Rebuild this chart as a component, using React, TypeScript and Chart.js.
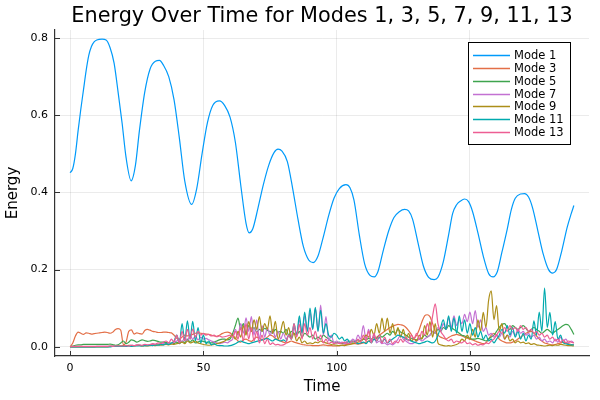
import React, { useEffect, useRef } from "react";
import { Chart, registerables } from "chart.js";

Chart.register(...registerables);

const titleText = "Energy Over Time for Modes 1, 3, 5, 7, 9, 11, 13";
const modeLabels = ["Mode 1", "Mode 3", "Mode 5", "Mode 7", "Mode 9", "Mode 11", "Mode 13"];
const modeColors = ["#009AFA", "#E36F47", "#3EA44E", "#C371D2", "#AC8E18", "#00AAAE", "#ED5E93"];
const xTicks = [0, 50, 100, 150];
const yTicks = [0, 0.2, 0.4, 0.6, 0.8];

const mode1Times = [
  0, 1, 2, 3, 4, 5, 6, 7, 8, 9, 10, 12, 13.5, 15, 16.5, 18, 19.5, 21, 22.9, 24.5,
  26, 28, 30, 32, 33.5, 35, 37, 39, 41, 43, 45.6, 47.5, 49.5, 51.5, 53.5, 56, 58, 60, 62, 64,
  66, 67.2, 68.5, 70.5, 72.5, 74.5, 76.5, 78, 79.5, 81.5, 83.5, 85.5, 87.5, 89.5, 91.2, 93, 95, 97, 99, 101,
  103.5, 105, 106.5, 108.5, 110.5, 112.5, 114.1, 115.5, 117.5, 119.5, 121.5, 123.5, 125.5, 127, 128.5, 130.5, 132.5, 134.5, 136.6, 138,
  140, 142, 143.5, 145, 146.5, 148, 149.5, 151, 153, 155, 157, 158.7, 160.3, 162, 164, 165.5, 167, 169, 170.5, 172,
  173.5, 175.5, 177.5, 179.5, 181, 182.5, 184.5, 186.5, 188, 189,
];
const mode1Energy = [
  0.451, 0.462, 0.5, 0.56, 0.615, 0.665, 0.715, 0.755, 0.778, 0.79, 0.795, 0.797, 0.795, 0.775, 0.735, 0.66, 0.58, 0.49, 0.43, 0.47,
  0.56, 0.66, 0.72, 0.74, 0.742, 0.73, 0.7, 0.64, 0.54, 0.43, 0.369, 0.41, 0.5, 0.58, 0.625, 0.637, 0.625, 0.595, 0.53, 0.42,
  0.32, 0.295, 0.305, 0.36, 0.42, 0.47, 0.503, 0.512, 0.507, 0.48, 0.41, 0.33, 0.26, 0.225, 0.218, 0.235, 0.285, 0.34, 0.385, 0.41,
  0.42, 0.412, 0.38, 0.29, 0.215, 0.185, 0.181, 0.195, 0.25, 0.3, 0.335, 0.35, 0.356, 0.352, 0.33, 0.27, 0.21, 0.18, 0.174, 0.18,
  0.22, 0.29, 0.345, 0.368, 0.378, 0.383, 0.376, 0.35, 0.295, 0.235, 0.19, 0.181, 0.195, 0.245, 0.305, 0.355, 0.385, 0.396, 0.397, 0.388,
  0.36, 0.3, 0.24, 0.2, 0.191, 0.2, 0.25, 0.31, 0.345, 0.366,
];

// Higher modes sampled at t = 0, 1, 2, ..., 189
const sampleTimes = Array.from({ length: 190 }, (_, i) => i);

const mode3Energy = [
  0, 0.01, 0.028, 0.038, 0.035, 0.032, 0.036, 0.035, 0.033, 0.034,
  0.035, 0.036, 0.037, 0.038, 0.037, 0.035, 0.038, 0.045, 0.047, 0.043,
  0.005, 0.012, 0.04, 0.044, 0.033, 0.036, 0.034, 0.033, 0.042, 0.045,
  0.043, 0.04, 0.039, 0.037, 0.037, 0.038, 0.038, 0.037, 0.036, 0.03,
  0.022, 0.02, 0.025, 0.03, 0.028, 0.03, 0.032, 0.035, 0.036, 0.035,
  0.034, 0.033, 0.032, 0.03, 0.028, 0.027, 0.03, 0.034, 0.037, 0.038,
  0.036, 0.03, 0.022, 0.015, 0.012, 0.018, 0.02, 0.016, 0.014, 0.02,
  0.025, 0.022, 0.018, 0.02, 0.025, 0.03, 0.028, 0.022, 0.018, 0.015,
  0.012, 0.01, 0.012, 0.015, 0.012, 0.01, 0.008, 0.006, 0.005, 0.004,
  0.004, 0.003, 0.003, 0.003, 0.004, 0.005, 0.004, 0.003, 0.003, 0.002,
  0.002, 0.003, 0.004, 0.005, 0.006, 0.007, 0.008, 0.008, 0.007, 0.008,
  0.01, 0.012, 0.015, 0.018, 0.02, 0.025, 0.03, 0.035, 0.04, 0.045,
  0.05, 0.053, 0.056, 0.058, 0.057, 0.055, 0.05, 0.042, 0.032, 0.022,
  0.03, 0.045, 0.065, 0.08, 0.083, 0.078, 0.06, 0.04, 0.03, 0.025,
  0.022, 0.02, 0.024, 0.028, 0.03, 0.032, 0.03, 0.028, 0.025, 0.022,
  0.02, 0.018, 0.015, 0.012, 0.01, 0.008, 0.01, 0.02, 0.03, 0.035,
  0.03, 0.02, 0.015, 0.012, 0.01, 0.01, 0.012, 0.015, 0.02, 0.025,
  0.03, 0.035, 0.038, 0.04, 0.035, 0.028, 0.02, 0.015, 0.01, 0.008,
  0.006, 0.005, 0.006, 0.008, 0.01, 0.012, 0.01, 0.008, 0.006, 0.005,
];

const mode5Energy = [
  0, 0.002, 0.004, 0.005, 0.005, 0.006, 0.006, 0.006, 0.006, 0.006,
  0.006, 0.006, 0.006, 0.006, 0.006, 0.007, 0.006, 0.004, 0.005, 0.01,
  0.015, 0.008, 0.012, 0.018, 0.016, 0.012, 0.015, 0.018, 0.016, 0.014,
  0.015, 0.017, 0.016, 0.014, 0.012, 0.012, 0.011, 0.01, 0.009, 0.008,
  0.012, 0.008, 0.015, 0.01, 0.02, 0.012, 0.018, 0.01, 0.012, 0.015,
  0.014, 0.012, 0.01, 0.01, 0.012, 0.015, 0.018, 0.02, 0.02, 0.018,
  0.02, 0.035, 0.055, 0.074, 0.045, 0.06, 0.035, 0.055, 0.04, 0.05,
  0.038, 0.045, 0.04, 0.048, 0.042, 0.04, 0.035, 0.045, 0.038, 0.04,
  0.035, 0.045, 0.03, 0.04, 0.035, 0.03, 0.04, 0.025, 0.035, 0.03,
  0.025, 0.03, 0.02, 0.025, 0.02, 0.03, 0.025, 0.02, 0.015, 0.012,
  0.01, 0.012, 0.008, 0.01, 0.012, 0.015, 0.012, 0.015, 0.018, 0.015,
  0.02, 0.018, 0.022, 0.02, 0.025, 0.022, 0.03, 0.025, 0.03, 0.035,
  0.03, 0.04, 0.035, 0.045, 0.038, 0.035, 0.03, 0.025, 0.022, 0.02,
  0.018, 0.02, 0.022, 0.03, 0.025, 0.03, 0.04, 0.035, 0.045, 0.04,
  0.05, 0.045, 0.055, 0.05, 0.045, 0.04, 0.035, 0.03, 0.028, 0.025,
  0.022, 0.02, 0.02, 0.022, 0.02, 0.018, 0.015, 0.02, 0.025, 0.03,
  0.04, 0.05, 0.058, 0.06, 0.05, 0.045, 0.055, 0.05, 0.045, 0.05,
  0.055, 0.048, 0.04, 0.045, 0.05, 0.045, 0.04, 0.035, 0.04, 0.045,
  0.04, 0.035, 0.04, 0.045, 0.05, 0.055, 0.058, 0.056, 0.045, 0.032,
];

const mode7Energy = [
  0, 0, 0, 0, 0, 0, 0, 0, 0, 0,
  0.001, 0.001, 0.001, 0.001, 0.001, 0.001, 0.002, 0.001, 0.002, 0.002,
  0.002, 0.003, 0.002, 0.004, 0.003, 0.005, 0.004, 0.003, 0.005, 0.004,
  0.005, 0.006, 0.005, 0.007, 0.006, 0.008, 0.007, 0.01, 0.008, 0.012,
  0.015, 0.02, 0.012, 0.025, 0.015, 0.03, 0.02, 0.028, 0.018, 0.025,
  0.02, 0.022, 0.018, 0.015, 0.012, 0.01, 0.008, 0.01, 0.012, 0.01,
  0.015, 0.02, 0.045, 0.03, 0.06, 0.035, 0.075, 0.04, 0.078, 0.03,
  0.07, 0.02, 0.055, 0.025, 0.05, 0.03, 0.045, 0.025, 0.04, 0.02,
  0.035, 0.02, 0.03, 0.025, 0.05, 0.03, 0.07, 0.035, 0.08, 0.04,
  0.09, 0.045, 0.1, 0.04, 0.108, 0.03, 0.078, 0.015, 0.03, 0.01,
  0.015, 0.01, 0.012, 0.008, 0.015, 0.01, 0.02, 0.015, 0.03, 0.02,
  0.055, 0.02, 0.045, 0.015, 0.03, 0.01, 0.015, 0.008, 0.01, 0.005,
  0.008, 0.005, 0.01, 0.02, 0.03, 0.02, 0.015, 0.01, 0.008, 0.01,
  0.015, 0.02, 0.015, 0.02, 0.025, 0.03, 0.04, 0.035, 0.05, 0.04,
  0.06, 0.045, 0.075, 0.05, 0.08, 0.055, 0.07, 0.06, 0.084, 0.065,
  0.09, 0.06, 0.094, 0.05, 0.07, 0.04, 0.05, 0.03, 0.035, 0.025,
  0.03, 0.025, 0.035, 0.02, 0.03, 0.025, 0.04, 0.03, 0.045, 0.035,
  0.04, 0.03, 0.035, 0.025, 0.03, 0.02, 0.025, 0.015, 0.02, 0.012,
  0.015, 0.01, 0.02, 0.012, 0.025, 0.015, 0.02, 0.01, 0.015, 0.01,
];

const mode9Energy = [
  0, 0, 0, 0, 0, 0, 0, 0, 0, 0,
  0, 0, 0, 0, 0, 0.001, 0.001, 0.001, 0.002, 0.002,
  0.003, 0.002, 0.004, 0.003, 0.002, 0.004, 0.003, 0.002, 0.003, 0.002,
  0.003, 0.004, 0.003, 0.005, 0.004, 0.005, 0.006, 0.005, 0.007, 0.006,
  0.008, 0.01, 0.012, 0.008, 0.015, 0.01, 0.012, 0.015, 0.01, 0.008,
  0.006, 0.005, 0.004, 0.005, 0.006, 0.008, 0.01, 0.012, 0.015, 0.02,
  0.025, 0.03, 0.02, 0.04, 0.025, 0.055, 0.03, 0.065, 0.04, 0.07,
  0.045, 0.078, 0.04, 0.06, 0.045, 0.08, 0.035, 0.066, 0.02, 0.04,
  0.066, 0.03, 0.05, 0.02, 0.035, 0.015, 0.025, 0.01, 0.015, 0.008,
  0.01, 0.008, 0.012, 0.01, 0.015, 0.012, 0.01, 0.008, 0.006, 0.005,
  0.004, 0.003, 0.004, 0.003, 0.005, 0.006, 0.008, 0.01, 0.012, 0.015,
  0.02, 0.03, 0.025, 0.045, 0.03, 0.06, 0.035, 0.074, 0.04, 0.074,
  0.035, 0.06, 0.03, 0.05, 0.025, 0.045, 0.02, 0.035, 0.015, 0.02,
  0.015, 0.03, 0.02, 0.055, 0.03, 0.065, 0.025, 0.06, 0.01, 0.005,
  0.003, 0.002, 0.003, 0.002, 0.004, 0.006, 0.01, 0.02, 0.015, 0.03,
  0.02, 0.045, 0.025, 0.07, 0.04, 0.089, 0.05, 0.12, 0.145, 0.07,
  0.107, 0.04, 0.06, 0.02, 0.03, 0.015, 0.02, 0.01, 0.015, 0.01,
  0.012, 0.008, 0.01, 0.006, 0.008, 0.005, 0.004, 0.003, 0.002, 0.003,
  0.004, 0.003, 0.005, 0.004, 0.006, 0.005, 0.004, 0.003, 0.003, 0.002,
];

const mode11Energy = [
  0, 0, 0, 0, 0, 0, 0, 0, 0, 0,
  0, 0, 0, 0, 0, 0, 0.001, 0.001, 0.001, 0.001,
  0.001, 0.001, 0.002, 0.001, 0.002, 0.002, 0.003, 0.002, 0.003, 0.003,
  0.004, 0.003, 0.005, 0.004, 0.006, 0.005, 0.008, 0.006, 0.01, 0.015,
  0.03, 0.01, 0.06, 0.015, 0.067, 0.02, 0.066, 0.015, 0.05, 0.01,
  0.03, 0.008, 0.015, 0.005, 0.008, 0.004, 0.003, 0.003, 0.002, 0.002,
  0.003, 0.005, 0.008, 0.012, 0.015, 0.012, 0.01, 0.008, 0.01, 0.012,
  0.014, 0.016, 0.018, 0.02, 0.022, 0.018, 0.015, 0.02, 0.017, 0.015,
  0.018, 0.014, 0.03, 0.02, 0.06, 0.03, 0.08, 0.035, 0.09, 0.04,
  0.1, 0.045, 0.102, 0.04, 0.095, 0.035, 0.06, 0.03, 0.025, 0.035,
  0.03, 0.02, 0.025, 0.015, 0.02, 0.01, 0.015, 0.012, 0.008, 0.01,
  0.012, 0.008, 0.015, 0.01, 0.02, 0.015, 0.025, 0.012, 0.02, 0.01,
  0.015, 0.02, 0.025, 0.03, 0.028, 0.025, 0.02, 0.018, 0.015, 0.012,
  0.01, 0.008, 0.01, 0.012, 0.015, 0.012, 0.01, 0.015, 0.03, 0.05,
  0.07, 0.045, 0.08, 0.04, 0.075, 0.035, 0.08, 0.04, 0.07, 0.035,
  0.06, 0.03, 0.05, 0.025, 0.04, 0.02, 0.03, 0.015, 0.02, 0.01,
  0.02, 0.03, 0.045, 0.035, 0.055, 0.03, 0.05, 0.025, 0.04, 0.02,
  0.035, 0.015, 0.03, 0.02, 0.067, 0.03, 0.09, 0.04, 0.152, 0.05,
  0.089, 0.03, 0.065, 0.02, 0.03, 0.01, 0.008, 0.006, 0.005, 0.005,
];

const mode13Energy = [
  0, 0.001, 0.001, 0.001, 0.001, 0.001, 0.001, 0.001, 0.001, 0.001,
  0.001, 0.001, 0.001, 0.001, 0.001, 0.002, 0.001, 0.002, 0.002, 0.002,
  0.002, 0.003, 0.002, 0.004, 0.003, 0.004, 0.005, 0.004, 0.006, 0.005,
  0.006, 0.008, 0.007, 0.01, 0.008, 0.012, 0.015, 0.01, 0.02, 0.012,
  0.03, 0.01, 0.04, 0.015, 0.045, 0.02, 0.046, 0.025, 0.04, 0.03,
  0.035, 0.03, 0.032, 0.028, 0.03, 0.026, 0.028, 0.025, 0.026, 0.028,
  0.03, 0.025, 0.04, 0.02, 0.05, 0.015, 0.06, 0.02, 0.05, 0.015,
  0.04, 0.01, 0.03, 0.008, 0.02, 0.006, 0.01, 0.005, 0.006, 0.004,
  0.005, 0.01, 0.03, 0.02, 0.06, 0.025, 0.058, 0.02, 0.06, 0.03,
  0.05, 0.02, 0.04, 0.015, 0.03, 0.01, 0.02, 0.008, 0.012, 0.008,
  0.01, 0.008, 0.01, 0.012, 0.008, 0.01, 0.015, 0.01, 0.02, 0.012,
  0.03, 0.015, 0.04, 0.01, 0.035, 0.015, 0.03, 0.01, 0.025, 0.01,
  0.02, 0.008, 0.015, 0.01, 0.02, 0.012, 0.025, 0.015, 0.03, 0.02,
  0.035, 0.02, 0.04, 0.03, 0.06, 0.04, 0.08, 0.111, 0.06, 0.04,
  0.03, 0.02, 0.015, 0.02, 0.01, 0.015, 0.012, 0.01, 0.015, 0.008,
  0.01, 0.005, 0.008, 0.004, 0.006, 0.005, 0.01, 0.008, 0.015, 0.02,
  0.03, 0.04, 0.035, 0.05, 0.04, 0.055, 0.045, 0.05, 0.04, 0.055,
  0.045, 0.05, 0.04, 0.045, 0.035, 0.04, 0.03, 0.035, 0.025, 0.03,
  0.02, 0.025, 0.015, 0.02, 0.012, 0.018, 0.01, 0.015, 0.012, 0.01,
];

const FONT = "'DejaVu Sans', sans-serif";

const titlePlugin = {
  id: "plotTitle",
  afterDraw(chart: any) {
    const { ctx, chartArea } = chart;
    ctx.save();
    ctx.fillStyle = "#000";
    ctx.font = `20.8px ${FONT}`;
    ctx.textAlign = "center";
    ctx.textBaseline = "alphabetic";
    ctx.fillText(titleText, (chartArea.left + chartArea.right) / 2, 21.5);
    ctx.restore();
  },
};

const innerTicksPlugin = {
  id: "innerTicks",
  afterDatasetsDraw(chart: any) {
    const { ctx, chartArea, scales } = chart;
    ctx.save();
    ctx.strokeStyle = "#333";
    ctx.lineWidth = 1;
    ctx.beginPath();
    xTicks.forEach((v) => {
      const px = Math.round(scales.x.getPixelForValue(v)) + 0.5;
      ctx.moveTo(px, chartArea.bottom);
      ctx.lineTo(px, chartArea.bottom - 5);
    });
    yTicks.forEach((v) => {
      const py = Math.round(scales.y.getPixelForValue(v)) + 0.5;
      ctx.moveTo(chartArea.left, py);
      ctx.lineTo(chartArea.left + 5, py);
    });
    ctx.stroke();
    ctx.restore();
  },
};

const legendPlugin = {
  id: "boxLegend",
  afterDraw(chart: any) {
    const { ctx, chartArea } = chart;
    const left = Math.round(chartArea.right - 121);
    const top = Math.round(chartArea.top + 12);
    const w = 102;
    const h = 102;
    ctx.save();
    ctx.fillStyle = "#fff";
    ctx.fillRect(left, top, w, h);
    ctx.strokeStyle = "#000";
    ctx.lineWidth = 1;
    ctx.strokeRect(left + 0.5, top + 0.5, w, h);
    ctx.font = `11.5px ${FONT}`;
    ctx.textBaseline = "middle";
    ctx.textAlign = "left";
    chart.data.datasets.forEach((ds: any, i: number) => {
      const y = Math.round(top + 13 + i * 12.85) + 0.5;
      ctx.beginPath();
      ctx.strokeStyle = modeColors[i];
      ctx.lineWidth = 1.3;
      ctx.moveTo(left + 5, y);
      ctx.lineTo(left + 42, y);
      ctx.stroke();
      ctx.fillStyle = "#000";
      ctx.fillText(ds.label, left + 46, y + 0.5);
    });
    ctx.restore();
  },
};

export default function App() {
  const canvasRef = useRef<HTMLCanvasElement | null>(null);

  useEffect(() => {
    document.body.style.margin = "0";
    const canvas = canvasRef.current;
    if (!canvas) return;

    const series = [
      { t: mode1Times, e: mode1Energy },
      { t: sampleTimes, e: mode3Energy },
      { t: sampleTimes, e: mode5Energy },
      { t: sampleTimes, e: mode7Energy },
      { t: sampleTimes, e: mode9Energy },
      { t: sampleTimes, e: mode11Energy },
      { t: sampleTimes, e: mode13Energy },
    ];

    const datasets = series.map((s, i) => ({
      label: modeLabels[i],
      data: s.e.map((v, k) => ({ x: s.t[k], y: v })),
      borderColor: modeColors[i],
      backgroundColor: modeColors[i],
      borderWidth: 1.2,
      pointRadius: 0,
      fill: false,
      cubicInterpolationMode: "monotone" as const,
      order: series.length - i,
    }));

    const chart = new Chart(canvas, {
      type: "line",
      data: { datasets },
      plugins: [titlePlugin, innerTicksPlugin, legendPlugin],
      options: {
        responsive: false,
        animation: false,
        events: [],
        layout: { padding: { top: 30, right: 11, left: 0, bottom: 0 } },
        plugins: {
          legend: { display: false },
          tooltip: { enabled: false },
          title: { display: false },
        },
        scales: {
          x: {
            type: "linear",
            min: -5.67,
            max: 194.67,
            afterBuildTicks: (scale: any) => {
              scale.ticks = xTicks.map((v) => ({ value: v }));
            },
            afterFit: (scale: any) => {
              scale.height = 44;
            },
            grid: { color: "rgba(0,0,0,0.08)", lineWidth: 1, drawTicks: false },
            border: { display: true, color: "#333", width: 1.2 },
            ticks: {
              color: "#000",
              font: { family: FONT, size: 11 },
              padding: 6,
              maxRotation: 0,
              autoSkip: false,
              callback: (v: any) => String(v),
            },
            title: {
              display: true,
              text: "Time",
              color: "#000",
              font: { family: FONT, size: 15 },
              padding: { top: 0, bottom: 4 },
            },
          },
          y: {
            type: "linear",
            min: -0.0239,
            max: 0.8209,
            afterBuildTicks: (scale: any) => {
              scale.ticks = yTicks.map((v) => ({ value: v }));
            },
            afterFit: (scale: any) => {
              scale.width = 55;
            },
            grid: { color: "rgba(0,0,0,0.08)", lineWidth: 1, drawTicks: false },
            border: { display: true, color: "#333", width: 1.2 },
            ticks: {
              color: "#000",
              font: { family: FONT, size: 11 },
              padding: 7,
              callback: (v: any) => Number(v).toFixed(1),
            },
            title: {
              display: true,
              text: "Energy",
              color: "#000",
              font: { family: FONT, size: 15 },
              padding: { top: 4, bottom: 0 },
            },
          },
        },
      },
    });

    return () => chart.destroy();
  }, []);

  return (
    <div style={{ position: "absolute", left: 0, top: 0, width: 600, height: 400, background: "#fff" }}>
      <canvas ref={canvasRef} width={600} height={400} style={{ width: 600, height: 400 }} />
    </div>
  );
}
